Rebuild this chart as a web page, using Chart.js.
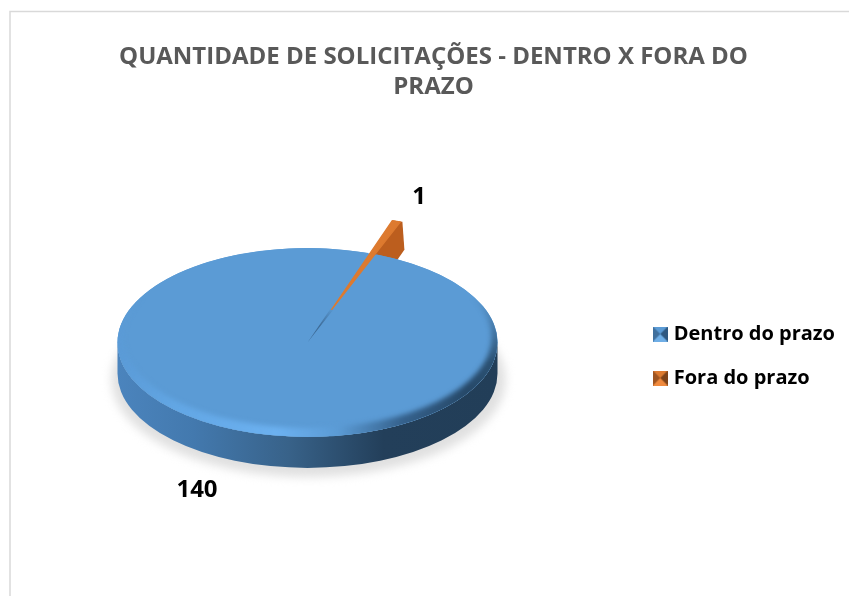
<!DOCTYPE html>
<html><head><meta charset="utf-8">
<style>html,body{margin:0;padding:0;background:#fff;overflow:hidden}canvas{display:block}</style>
<script src="https://cdn.jsdelivr.net/npm/chart.js@4/dist/chart.umd.js"></script>
</head><body>
<canvas id="c" width="849" height="596" style="width:849px;height:596px"></canvas>
<script>
const categories = ['Dentro do prazo', 'Fora do prazo'];
const values = [140, 1];
const titleLines = ['QUANTIDADE DE SOLICITAÇÕES - DENTRO X FORA DO', 'PRAZO'];
const sliceColors = ['#5B9BD5', '#DD7A2F'];

const CX = 307.5, CY = 342.5, R = 190, K = 0.497, DEPTH = 31, ORANGE_DEPTH = 38, EXPLODE = 70;
const FONT = '"Open Sans", sans-serif';

function swatch(light, mid, dark, darker) {
  const s = 15, c = document.createElement('canvas');
  c.width = s; c.height = s;
  const g = c.getContext('2d');
  const tri = (ax, ay, bx, by, col) => { g.fillStyle = col; g.beginPath(); g.moveTo(ax, ay); g.lineTo(bx, by); g.lineTo(s/2, s/2); g.closePath(); g.fill(); };
  g.fillStyle = mid; g.fillRect(0, 0, s, s);
  tri(0, 0, s, 0, mid);
  tri(0, s, s, s, light);
  tri(0, 0, 0, s, dark);
  tri(s, 0, s, s, darker);
  return c;
}
const swatches = [swatch('#6FAEE6', '#5B9BD5', '#3F6F9C', '#2F5880'), swatch('#F08A3E', '#DD7A2F', '#9E5420', '#7E4218')];

const pie3d = {
  id: 'pie3d',
  afterLayout(chart) {
    const a = chart.chartArea;
    a.left = CX - R; a.right = CX + R; a.top = CY - R; a.bottom = CY + R;
    a.width = 2 * R; a.height = 2 * R;
    const l = chart.legend;
    l.top += 58; l.bottom += 58;
    l.left -= 4; l.right -= 4;
  },
  afterDatasetsUpdate(chart) {
    // pull the small slice out of the pie
    const arc = chart.getDatasetMeta(0).data[1];
    const mid = (arc.startAngle + arc.endAngle) / 2;
    arc.x += Math.cos(mid) * EXPLODE;
    arc.y += Math.sin(mid) * EXPLODE;
  },
  beforeDraw(chart) {
    const ctx = chart.ctx;
    ctx.save();
    ctx.fillStyle = '#fff';
    ctx.fillRect(0, 0, chart.width, chart.height);
    ctx.strokeStyle = '#D9D9D9';
    ctx.lineWidth = 1.5;
    ctx.strokeRect(10, 11.5, chart.width + 20, chart.height + 20);
    ctx.restore();
  },
  beforeDatasetsDraw(chart) {
    const ctx = chart.ctx;
    const arc = chart.getDatasetMeta(0).data[1];
    const mid = (arc.startAngle + arc.endAngle) / 2;
    const ax = CX + Math.cos(mid) * EXPLODE, ay = CY + Math.sin(mid) * EXPLODE * K;
    const ex = ax + Math.cos(arc.endAngle) * R, ey = ay + Math.sin(arc.endAngle) * R * K;
    const mx = ax + Math.cos(mid) * R, my = ay + Math.sin(mid) * R * K;

    ctx.save();
    // ground shadow
    ctx.save();
    ctx.filter = 'blur(5px)';
    ctx.fillStyle = '#E0E0E0';
    ctx.beginPath();
    ctx.ellipse(CX + 1, CY + DEPTH + 6, R + 7, R * K + 3, 0, 0, Math.PI * 2);
    ctx.fill();
    ctx.restore();

    // cut face of the exploded slice
    ctx.save();
    ctx.filter = 'blur(0.6px)';
    ctx.fillStyle = '#BC5E1E';
    ctx.beginPath();
    ctx.moveTo(ax, ay);
    ctx.lineTo(mx, my);
    ctx.lineTo(ex + 2, ey);
    ctx.lineTo(ex + 4, ey + ORANGE_DEPTH - 10);
    ctx.lineTo(ex - 3, ey + ORANGE_DEPTH);
    ctx.lineTo(ax, ay + ORANGE_DEPTH);
    ctx.closePath();
    ctx.fill();
    ctx.restore();

    // cylinder wall
    const wall = ctx.createLinearGradient(CX - R, 0, CX + R, 0);
    wall.addColorStop(0, '#4B84BD');
    wall.addColorStop(0.2, '#4379AE');
    wall.addColorStop(0.45, '#386289');
    wall.addColorStop(0.7, '#233F5A');
    wall.addColorStop(1, '#223E58');
    ctx.fillStyle = wall;
    ctx.beginPath();
    ctx.ellipse(CX, CY, R, R * K, 0, Math.PI, 0, true);
    ctx.ellipse(CX, CY + DEPTH, R, R * K, 0, 0, Math.PI, false);
    ctx.closePath();
    ctx.fill();

    // top face base, showing through the gap of the exploded slice
    const b = ctx.createRadialGradient(0, 0, 35, 0, 0, 75);
    b.addColorStop(0, '#3E6C98');
    b.addColorStop(1, '#5B9BD5');
    ctx.save();
    ctx.translate(CX, CY);
    ctx.scale(1, K);
    ctx.fillStyle = b;
    ctx.beginPath();
    ctx.arc(0, 0, R, 0, Math.PI * 2);
    ctx.fill();
    ctx.restore();
    ctx.restore();

    ctx.save();
    ctx.translate(CX, CY);
    ctx.scale(1, K);
    ctx.translate(-CX, -CY);
  },
  afterDatasetsDraw(chart) {
    const ctx = chart.ctx;
    ctx.restore();

    // bevel along the front rim of the top face, faded out towards the back
    const off = document.createElement('canvas');
    off.width = chart.width; off.height = chart.height;
    const o = off.getContext('2d');
    const g = o.createLinearGradient(CX - R, 0, CX + R, 0);
    g.addColorStop(0, '#5A9AD6');
    g.addColorStop(0.15, '#62A6E4');
    g.addColorStop(0.42, '#6CB1F0');
    g.addColorStop(0.58, '#5B9BD5');
    g.addColorStop(0.75, '#35618C');
    g.addColorStop(0.92, '#264868');
    g.addColorStop(1, '#2C5274');
    o.filter = 'blur(2.5px)';
    o.fillStyle = g;
    o.beginPath();
    o.ellipse(CX, CY, R + 6, R * K + 6, 0, 0, Math.PI * 2);
    o.ellipse(CX, CY - 5, R - 6, R * K - 4, 0, 0, Math.PI * 2);
    o.fill('evenodd');
    o.filter = 'none';
    o.globalCompositeOperation = 'destination-in';
    const m = o.createLinearGradient(0, CY - 45, 0, CY + 20);
    m.addColorStop(0, 'rgba(0,0,0,0)');
    m.addColorStop(1, 'rgba(0,0,0,1)');
    o.fillStyle = m;
    o.fillRect(0, 0, off.width, off.height);

    ctx.save();
    ctx.beginPath();
    ctx.ellipse(CX, CY, R, R * K, 0, 0, Math.PI * 2);
    ctx.clip();
    ctx.drawImage(off, 0, 0);
    ctx.restore();
  },
  afterDraw(chart) {
    const ctx = chart.ctx;
    ctx.save();
    ctx.fillStyle = '#000';
    ctx.font = 'bold 24px ' + FONT;
    ctx.textAlign = 'center';
    ctx.textBaseline = 'middle';
    ctx.fillText(String(values[0]), 197, 490);
    ctx.fillText(String(values[1]), 419, 197);
    ctx.restore();
  }
};

new Chart(document.getElementById('c'), {
  type: 'pie',
  data: {
    labels: categories,
    datasets: [{
      data: values,
      backgroundColor: sliceColors,
      borderColor: sliceColors,
      borderWidth: [0, 1.5],
      hoverOffset: 0,
      clip: false
    }]
  },
  plugins: [pie3d],
  options: {
    responsive: false,
    animation: false,
    rotation: 21.28,
    radius: R,
    layout: { padding: { left: 18, right: 0, top: 0, bottom: 0 } },
    plugins: {
      tooltip: { enabled: false },
      title: {
        display: true,
        text: titleLines,
        color: '#595959',
        font: { family: FONT, size: 24, weight: 'bold', lineHeight: 1.25 },
        padding: { top: 42, bottom: 0 }
      },
      legend: {
        display: true,
        position: 'right',
        labels: {
          usePointStyle: true,
          pointStyleWidth: 7,
          color: '#000',
          font: { family: FONT, size: 20, weight: 'bold' },
          padding: 24,
          generateLabels(chart) {
            const items = Chart.overrides.pie.plugins.legend.labels.generateLabels(chart);
            items.forEach((it, i) => { it.pointStyle = swatches[i]; });
            return items;
          }
        }
      }
    }
  }
});
</script>
</body></html>
